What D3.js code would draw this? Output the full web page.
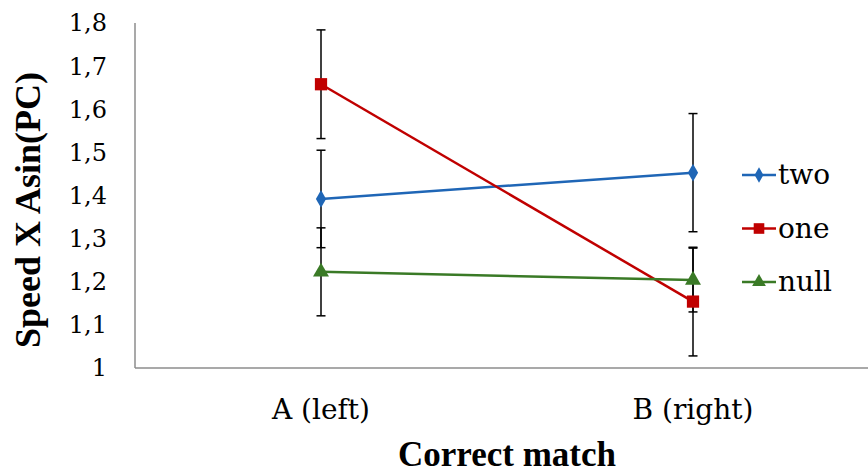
<!DOCTYPE html>
<html>
<head>
<meta charset="utf-8">
<script src="https://cdn.jsdelivr.net/npm/d3@7"></script>
<style>
  body { margin: 0; background: #fff; }
  svg text { font-family: "DejaVu Serif", "Liberation Serif", serif; }
  svg text.title { font-family: "Liberation Serif", "DejaVu Serif", serif; font-weight: bold; }
</style>
</head>
<body>
<svg id="chart" width="868" height="474"></svg>
<script>
// categories and series values
const categories = ["A (left)", "B (right)"];
const seriesNames = ["two", "one", "null"];
const twoValues = [1.392, 1.453];
const twoErrors = [0.113, 0.137];
const oneValues = [1.658, 1.154];
const oneErrors = [0.126, 0.126];
const nullValues = [1.223, 1.204];
const nullErrors = [0.102, 0.074];
const yTicks = [1, 1.1, 1.2, 1.3, 1.4, 1.5, 1.6, 1.7, 1.8];

const series = [
  {name: seriesNames[0], values: twoValues, errors: twoErrors, color: "#1f66b6", symbol: d3.symbolDiamond, size: 90},
  {name: seriesNames[1], values: oneValues, errors: oneErrors, color: "#c00000", symbol: d3.symbolSquare, size: 150},
  {name: seriesNames[2], values: nullValues, errors: nullErrors, color: "#3a7a26", symbol: d3.symbolTriangle, size: 110},
];

const svg = d3.select("svg#chart");

// plot area (right side runs past the window like in the picture)
const plot = {left: 135, right: 879, top: 23, bottom: 368};

const x = d3.scaleBand().domain(categories).range([plot.left, plot.right]);
const y = d3.scaleLinear().domain([1, 1.8]).range([plot.bottom, plot.top]);
const fmt = d => d3.format(".1f")(d).replace(".", ",").replace(/,0$/, "");

// y axis
svg.append("line")
  .attr("x1", plot.left).attr("x2", plot.left)
  .attr("y1", plot.top).attr("y2", plot.bottom)
  .attr("stroke", "#8c8c8c").attr("stroke-width", 1.5);

svg.selectAll("text.ytick")
  .data(yTicks)
  .join("text")
  .attr("class", "ytick")
  .attr("x", 107)
  .attr("y", d => y(d))
  .attr("dy", "0.35em")
  .attr("text-anchor", "end")
  .attr("font-size", 24)
  .text(fmt);

// x axis
svg.append("line")
  .attr("x1", plot.left).attr("x2", plot.right)
  .attr("y1", plot.bottom).attr("y2", plot.bottom)
  .attr("stroke", "#8c8c8c").attr("stroke-width", 1.5);

svg.selectAll("text.xtick")
  .data(categories)
  .join("text")
  .attr("class", "xtick")
  .attr("x", d => x(d) + x.bandwidth() / 2)
  .attr("y", 419)
  .attr("text-anchor", "middle")
  .attr("font-size", 28)
  .text(d => d);

// axis titles
svg.append("text")
  .attr("class", "title")
  .attr("x", 507).attr("y", 466)
  .attr("text-anchor", "middle")
  .attr("font-size", 35)
  .text("Correct match");

svg.append("text")
  .attr("class", "title")
  .attr("transform", "translate(40,210) rotate(-90)")
  .attr("text-anchor", "middle")
  .attr("font-size", 36)
  .text("Speed X Asin(PC)");

const cx = i => x(categories[i]) + x.bandwidth() / 2;

// error bars
series.forEach(s => {
  const g = svg.append("g");
  s.values.forEach((v, i) => {
    const lo = y(v - s.errors[i]), hi = y(v + s.errors[i]);
    g.append("line").attr("x1", cx(i)).attr("x2", cx(i)).attr("y1", lo).attr("y2", hi)
      .attr("stroke", "#000").attr("stroke-width", 1.5);
    [lo, hi].forEach(yy => g.append("line")
      .attr("x1", cx(i) - 4.5).attr("x2", cx(i) + 4.5).attr("y1", yy).attr("y2", yy)
      .attr("stroke", "#000").attr("stroke-width", 1.5));
  });
});

// lines and markers
const line = d3.line().x((d, i) => cx(i)).y(d => y(d));
series.forEach(s => {
  svg.append("path")
    .attr("d", line(s.values))
    .attr("fill", "none")
    .attr("stroke", s.color)
    .attr("stroke-width", 2.5);
  svg.selectAll(null)
    .data(s.values)
    .join("path")
    .attr("transform", (d, i) => `translate(${cx(i)},${y(d)})`)
    .attr("d", d3.symbol().type(s.symbol).size(s.size))
    .attr("fill", s.color);
});

// legend
const legend = svg.append("g").attr("transform", "translate(742,175)");
series.forEach((s, i) => {
  const g = legend.append("g").attr("transform", `translate(0,${i * 53.5})`);
  g.append("line").attr("x1", 0).attr("x2", 34).attr("y1", 0).attr("y2", 0)
    .attr("stroke", s.color).attr("stroke-width", 2.5);
  g.append("path")
    .attr("transform", "translate(17,0)")
    .attr("d", d3.symbol().type(s.symbol).size(s.size * 0.75))
    .attr("fill", s.color);
  g.append("text")
    .attr("x", 36).attr("y", 0).attr("dy", "0.33em")
    .attr("font-size", 28)
    .text(s.name);
});
</script>
</body>
</html>
